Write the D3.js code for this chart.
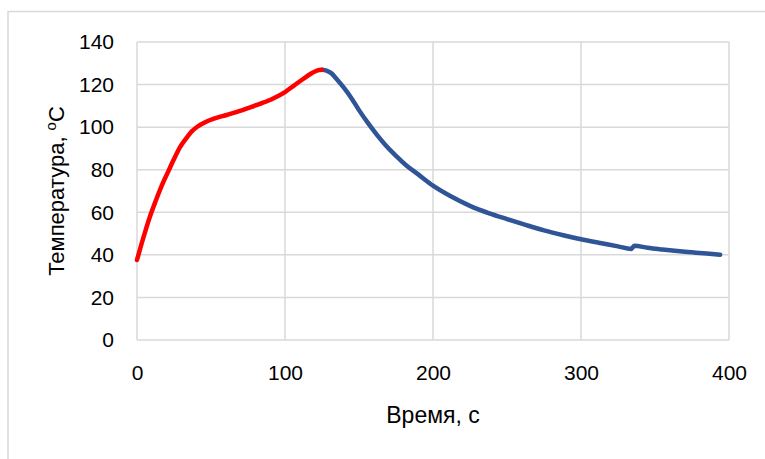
<!DOCTYPE html>
<html>
<head>
<meta charset="utf-8">
<script src="https://cdn.jsdelivr.net/npm/d3@7"></script>
<style>
  body { margin: 0; background: #fff; }
  text { font-family: "Liberation Sans", Arial, sans-serif; fill: #000; }
</style>
</head>
<body>
<script>
// нагрев (красная линия)
let heatTime = [0, 3, 6, 9, 13, 17, 21, 25, 29, 33, 37, 41, 46, 52, 60, 68, 76, 84, 92, 100, 106, 112, 118, 122, 125];
let heatTemp = [37.6, 45, 52, 58.5, 66, 73, 79, 85, 90.5, 94.5, 98, 100.3, 102.3, 104, 105.6, 107.3, 109.2, 111.2, 113.5, 116.5, 119.5, 122.5, 125.3, 126.7, 127];

// остывание (синяя линия)
let coolTime = [125, 128, 131, 135, 140, 145, 150, 156, 162, 168, 175, 182, 190, 200, 212, 225, 238, 250, 262, 275, 288, 300, 312, 325, 334, 336, 345, 355, 365, 375, 385, 394];
let coolTemp = [127, 126.6, 125.5, 122.5, 118.3, 113.5, 108, 102, 96.5, 91.5, 86.5, 82, 77.8, 72.5, 67.5, 63, 59.5, 56.8, 54.2, 51.5, 49.2, 47.3, 45.7, 44, 42.8, 44.3, 43.3, 42.5, 41.8, 41.2, 40.6, 40];

let xTicks = [0, 100, 200, 300, 400];
let yTicks = [0, 20, 40, 60, 80, 100, 120, 140];

let W = 765, H = 459;
let margin = {top: 42, right: 36, bottom: 119, left: 137};
let width = W - margin.left - margin.right,
    height = H - margin.top - margin.bottom;

let svg = d3.select("body").append("svg")
    .attr("width", W)
    .attr("height", H);

// рамка диаграммы
svg.append("path")
    .attr("d", "M8," + H + "V11.5H" + W)
    .attr("fill", "none")
    .attr("stroke", "#d9d9d9")
    .attr("stroke-width", 1.5);

let g = svg.append("g")
    .attr("transform", "translate(" + margin.left + "," + margin.top + ")");

let x = d3.scaleLinear().domain([0, 400]).range([0, width]);
let y = d3.scaleLinear().domain([0, 140]).range([height, 0]);

// сетка
g.append("g")
    .selectAll("line")
    .data(yTicks)
    .join("line")
    .attr("x1", 0).attr("x2", width)
    .attr("y1", d => y(d)).attr("y2", d => y(d))
    .attr("stroke", "#d9d9d9").attr("stroke-width", 1.5);

g.append("g")
    .selectAll("line")
    .data(xTicks)
    .join("line")
    .attr("y1", 0).attr("y2", height)
    .attr("x1", d => x(d)).attr("x2", d => x(d))
    .attr("stroke", "#d9d9d9").attr("stroke-width", 1.5);

// оси
let xAxis = g.append("g")
    .attr("transform", "translate(0," + height + ")")
    .call(d3.axisBottom(x).tickValues(xTicks).tickSize(0).tickPadding(25));
xAxis.select(".domain").remove();
xAxis.selectAll("text").attr("font-size", 21).style("font-family", "Liberation Sans, Arial, sans-serif");

let yAxis = g.append("g")
    .call(d3.axisLeft(y).tickValues(yTicks).tickSize(0).tickPadding(23));
yAxis.select(".domain").remove();
yAxis.selectAll("text").attr("font-size", 21).style("font-family", "Liberation Sans, Arial, sans-serif");

// линии
let line = d3.line().curve(d3.curveMonotoneX);

g.append("path")
    .datum(coolTime.map((t, i) => [x(t), y(coolTemp[i])]))
    .attr("d", line)
    .attr("fill", "none")
    .attr("stroke", "#2f5597")
    .attr("stroke-width", 4.5)
    .attr("stroke-linecap", "round")
    .attr("stroke-linejoin", "round");

g.append("path")
    .datum(heatTime.map((t, i) => [x(t), y(heatTemp[i])]))
    .attr("d", line)
    .attr("fill", "none")
    .attr("stroke", "#ff0000")
    .attr("stroke-width", 4.5)
    .attr("stroke-linecap", "round")
    .attr("stroke-linejoin", "round");

// подписи осей
svg.append("text")
    .attr("x", margin.left + width / 2)
    .attr("y", 423)
    .attr("text-anchor", "middle")
    .attr("font-size", 23)
    .text("Время, с");

let yt = svg.append("text")
    .attr("transform", "translate(64," + (margin.top + height / 2) + ") rotate(-90)")
    .attr("text-anchor", "middle")
    .attr("font-size", 22);
yt.append("tspan").text("Температура, ");
yt.append("tspan").attr("font-size", 15).attr("dy", -8).text("o");
yt.append("tspan").attr("dy", 8).text("C");
</script>
</body>
</html>
